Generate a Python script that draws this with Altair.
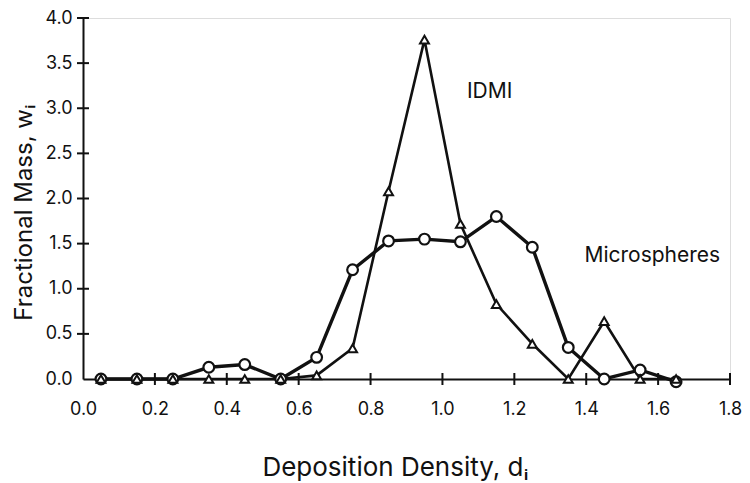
import altair as alt
import pandas as pd

# bin centres of deposition density
x_vals = [0.05, 0.15, 0.25, 0.35, 0.45, 0.55, 0.65, 0.75, 0.85, 0.95,
          1.05, 1.15, 1.25, 1.35, 1.45, 1.55, 1.65]
idmi = [0, 0, 0, 0, 0, 0, 0.04, 0.34, 2.08, 3.76,
        1.72, 0.83, 0.39, 0, 0.64, 0, 0]
micro = [0, 0, 0, 0.13, 0.16, 0, 0.24, 1.21, 1.53, 1.55,
         1.52, 1.80, 1.46, 0.35, 0, 0.10, -0.03]

x_tick_vals = [0.0, 0.2, 0.4, 0.6, 0.8, 1.0, 1.2, 1.4, 1.6, 1.8]
y_tick_vals = [0.0, 0.5, 1.0, 1.5, 2.0, 2.5, 3.0, 3.5, 4.0]

label_text = ["IDMI", "Microspheres"]
label_x = [1.068, 1.395]
label_y = [3.18, 1.36]

FONT = "Inter"
INK = "#111111"
W, H = 647, 361

df_i = pd.DataFrame({"d": x_vals, "w": idmi})
df_m = pd.DataFrame({"d": x_vals, "w": micro})
df_lab = pd.DataFrame({"d": label_x, "w": label_y, "t": label_text})
df_xt = pd.DataFrame({"d": [v for v in x_tick_vals if v > 0]})
df_yt = pd.DataFrame({"w": [v for v in y_tick_vals if v > 0]})

xs = alt.Scale(domain=[0, 1.8], nice=False, zero=False)
ys = alt.Scale(domain=[0, 4], nice=False, zero=False)

x_axis = alt.Axis(values=x_tick_vals, format=".1f", ticks=False, grid=False,
                  labelFlush=False, labelOverlap=False,
                  domainColor=INK, domainWidth=2, labelFont=FONT, labelFontSize=18,
                  labelColor=INK, labelPadding=21,
                  title="Deposition Density, dᵢ", titleFont=FONT, titleFontSize=26,
                  titleFontWeight="normal", titleColor=INK,
                  titleX=312, titleY=88, titleBaseline="middle", titleAlign="center")
y_axis = alt.Axis(values=y_tick_vals, format=".1f", ticks=False, grid=False,
                  labelFlush=False, labelOverlap=False,
                  domainColor=INK, domainWidth=2, labelFont=FONT, labelFontSize=18,
                  labelColor=INK, labelPadding=11,
                  title="Fractional Mass, wᵢ", titleFont=FONT, titleFontSize=24,
                  titleFontWeight="normal", titleColor=INK, titleAngle=-90,
                  titleX=-59, titleY=194, titleBaseline="middle", titleAlign="center")

base_x = alt.X("d:Q", scale=xs, axis=x_axis)
base_y = alt.Y("w:Q", scale=ys, axis=y_axis)
px = alt.X("d:Q", scale=xs)
py = alt.Y("w:Q", scale=ys)

line_m = alt.Chart(df_m).mark_line(color=INK, strokeWidth=3.4).encode(x=base_x, y=base_y)
line_i = alt.Chart(df_i).mark_line(color=INK, strokeWidth=2.6).encode(x=px, y=py)
pts_m = alt.Chart(df_m).mark_point(shape="circle", size=115, filled=True, fill="white",
                                   stroke=INK, strokeWidth=2.2, opacity=1).encode(x=px, y=py)
pts_i = alt.Chart(df_i).mark_point(shape="triangle-up", size=80, filled=True, fill="white",
                                   stroke=INK, strokeWidth=2, opacity=1).encode(x=px, y=py)

xt = alt.Chart(df_xt).mark_rule(color=INK, strokeWidth=2).encode(
    x=px, y=alt.value(H - 6), y2=alt.value(H + 6))
yt = alt.Chart(df_yt).mark_rule(color=INK, strokeWidth=2).encode(
    y=py, x=alt.value(-6), x2=alt.value(6))

labels = alt.Chart(df_lab).mark_text(font=FONT, fontSize=21, color=INK, align="left",
                                     baseline="middle").encode(x=px, y=py, text="t:N")

chart = alt.layer(line_m, line_i, xt, yt, pts_m, pts_i, labels).properties(
    width=W, height=H,
    autosize=alt.AutoSizeParams(type="none"),
    padding={"left": 75, "top": 10, "right": 12, "bottom": 104},
).configure_view(stroke=None).configure(background="white")

chart.save("out.html", embed_options={"renderer": "svg", "actions": False})
